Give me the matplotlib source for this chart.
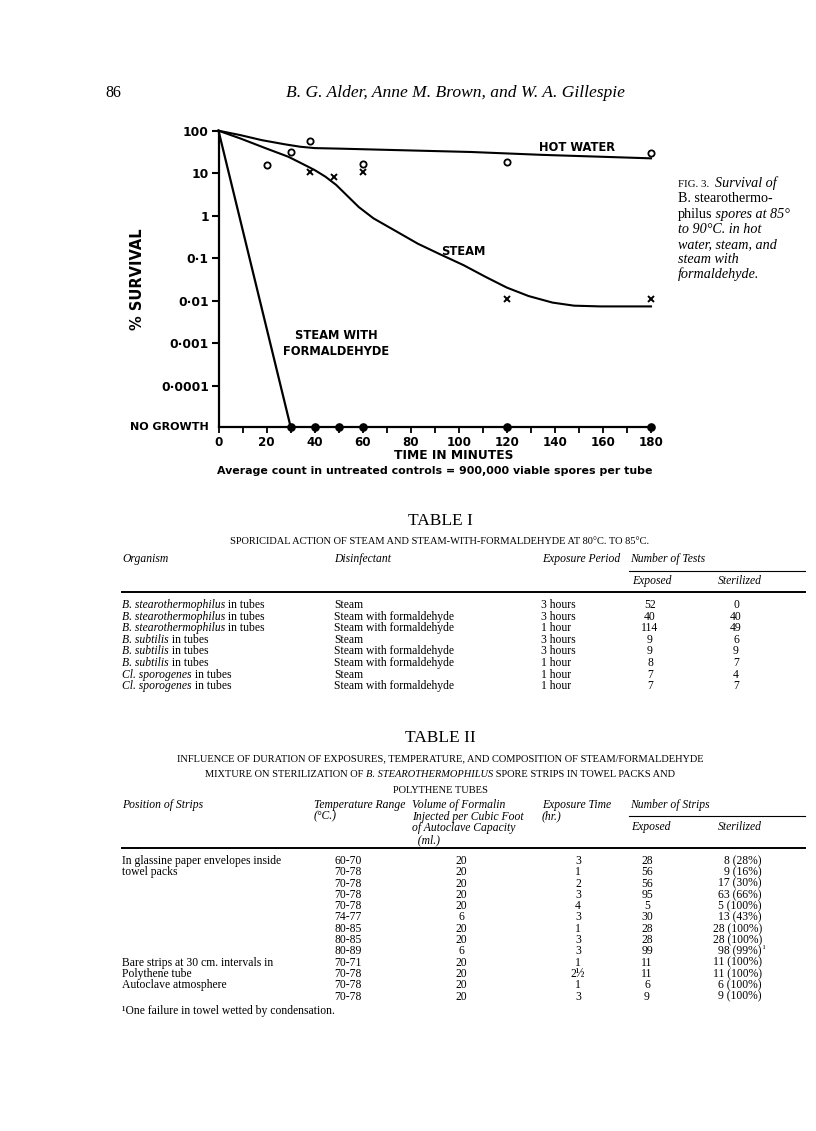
import matplotlib
matplotlib.use("Agg")
import matplotlib.pyplot as plt
from matplotlib.lines import Line2D

# ---------------- Figure 3 data ----------------
NO_GROWTH = 1.1e-5
hot_water_t = [20, 30, 38, 60, 120, 180]
hot_water_pct = [15.6, 32, 58, 16.5, 18, 30]
steam_t = [38, 48, 60, 120, 180]
steam_pct = [10.9, 8.3, 10.9, 0.0113, 0.0113]
formal_t = [30, 40, 50, 60, 120, 180]
formal_pct = [NO_GROWTH] * 6

hot_curve_t = [0, 9, 18, 27.5, 34, 40, 51, 74, 105, 135, 180]
hot_curve_pct = [100, 79, 60, 48, 42, 39, 37.8, 35, 31.6, 27, 22.4]
steam_curve_t = [0, 9, 20, 29, 34, 40, 44.5, 49, 54, 58.4, 64.5, 74, 83, 92, 102, 111, 120,
                 129, 139, 148, 159, 180]
steam_curve_pct = [100, 66, 38, 24.5, 17.7, 11.9, 8.3, 5.3, 2.8, 1.6, 0.87, 0.43, 0.22, 0.126,
                   0.069, 0.037, 0.0205, 0.013, 0.0091, 0.0077, 0.0074, 0.0074]
formal_curve_t = [0, 30]
formal_curve_pct = [100, NO_GROWTH]

y_tick_values = [100, 10, 1, 0.1, 0.01, 0.001, 0.0001]
y_tick_labels = ["100", "10", "1", "0·1", "0·01", "0·001", "0·0001"]
x_major = [0, 20, 40, 60, 80, 100, 120, 140, 160, 180]
x_minor = [10, 30, 50, 70, 90, 110, 130, 150, 170]

# ---------------- Table I data ----------------
t1_organism = ["B. stearothermophilus", "B. stearothermophilus", "B. stearothermophilus",
               "B. subtilis", "B. subtilis", "B. subtilis", "Cl. sporogenes", "Cl. sporogenes"]
t1_disinfectant = ["Steam", "Steam with formaldehyde", "Steam with formaldehyde", "Steam",
                   "Steam with formaldehyde", "Steam with formaldehyde", "Steam",
                   "Steam with formaldehyde"]
t1_period = ["3 hours", "3 hours", "1 hour", "3 hours", "3 hours", "1 hour", "1 hour", "1 hour"]
t1_exposed = [52, 40, 114, 9, 9, 8, 7, 7]
t1_sterilized = [0, 40, 49, 6, 9, 7, 4, 7]

# ---------------- Table II data ----------------
t2_position = ["In glassine paper envelopes inside", "towel packs", "", "", "", "", "", "", "",
               "Bare strips at 30 cm. intervals in", "Polythene tube", "Autoclave atmosphere", ""]
t2_temp = ["60-70", "70-78", "70-78", "70-78", "70-78", "74-77", "80-85", "80-85", "80-89",
           "70-71", "70-78", "70-78", "70-78"]
t2_volume = [20, 20, 20, 20, 20, 6, 20, 20, 6, 20, 20, 20, 20]
t2_time = ["3", "1", "2", "3", "4", "3", "1", "3", "3", "1", "2½", "1", "3"]
t2_exposed = [28, 56, 56, 95, 5, 30, 28, 28, 99, 11, 11, 6, 9]
t2_sterilized = [8, 9, 17, 63, 5, 13, 28, 28, 98, 11, 11, 6, 9]
t2_percent = [28, 16, 30, 66, 100, 43, 100, 100, 99, 100, 100, 100, 100]
t2_note = ["", "", "", "", "", "", "", "", "¹", "", "", "", ""]

SERIF = "Liberation Serif"
SANS = "DejaVu Sans"

fig = plt.figure(figsize=(8.16, 11.31), dpi=100)
fig.patch.set_facecolor("white")
page = fig.add_axes([0, 0, 1, 1])
page.set_xlim(0, 816)
page.set_ylim(1131, 0)
page.axis("off")
renderer = fig.canvas.get_renderer()


def seq(x, y, pieces, size, **kw):
    """Draw consecutive text pieces (text, style[, size]) on one baseline."""
    for piece in pieces:
        s, style = piece[0], piece[1]
        sz = piece[2] if len(piece) > 2 else size
        t = page.text(x, y, s, fontsize=sz, style=style, family=SERIF, va="baseline",
                      ha="left", **kw)
        x += t.get_window_extent(renderer).width
    return x


def stack(x, y_top, lines, size, step, **kw):
    """Several header lines, each placed on its own baseline."""
    for k, s in enumerate(lines):
        page.text(x, y_top + k * step, s, fontsize=size, family=SERIF, va="baseline", **kw)


# ---------------- page header ----------------
page.text(105, 97, "86", fontsize=11.5, family=SERIF, va="baseline")
page.text(455, 97, "B. G. Alder, Anne M. Brown, and W. A. Gillespie", fontsize=12.6,
          style="italic", family=SERIF, ha="center", va="baseline")

# ---------------- chart ----------------
ax = fig.add_axes([218.5 / 816, 1 - 426.7 / 1131, (651 - 218.5) / 816, (426.7 - 130.7) / 1131])
ax.set_yscale("log")
ax.set_xlim(0, 180)
ax.set_ylim(NO_GROWTH, 100)
for s in ("top", "right"):
    ax.spines[s].set_visible(False)
for s in ("left", "bottom"):
    ax.spines[s].set_linewidth(1.6)
ax.patch.set_alpha(0)

ax.plot(hot_curve_t, hot_curve_pct, color="black", lw=1.5, clip_on=False)
ax.plot(steam_curve_t, steam_curve_pct, color="black", lw=1.5, clip_on=False)
ax.plot(formal_curve_t, formal_curve_pct, color="black", lw=1.6, clip_on=False)
ax.plot(hot_water_t, hot_water_pct, ls="none", marker="o", ms=4.5, mfc="white", mec="black",
        mew=1.3, clip_on=False)
ax.plot(steam_t, steam_pct, ls="none", marker="x", ms=4, mec="black", mew=1.4, clip_on=False)
ax.plot(formal_t, formal_pct, ls="none", marker="o", ms=5.2, color="black", clip_on=False,
        zorder=5)

ax.set_yticks(y_tick_values)
ax.set_yticklabels(y_tick_labels)
ax.yaxis.set_minor_locator(matplotlib.ticker.NullLocator())
ax.set_xticks(x_major)
ax.set_xticks(x_minor, minor=True)
ax.tick_params(axis="y", which="major", direction="out", length=5, width=1.5, pad=2)
ax.tick_params(axis="x", which="both", direction="out", length=4, width=1.3, pad=3)
for lab in ax.get_yticklabels():
    lab.set_fontfamily(SANS)
    lab.set_fontweight("bold")
    lab.set_fontsize(8.8)
for lab in ax.get_xticklabels():
    lab.set_fontfamily(SANS)
    lab.set_fontweight("bold")
    lab.set_fontsize(8.6)

ax.text(-4, NO_GROWTH, "NO GROWTH", ha="right", va="center", fontsize=8, fontweight="bold",
        family=SANS, clip_on=False)
ax.text(-0.188, 0.5, "% SURVIVAL", rotation=90, transform=ax.transAxes, ha="center",
        va="center", fontsize=10.5, fontweight="bold", family=SANS)
ax.text(98, -0.077, "TIME IN MINUTES", transform=ax.get_xaxis_transform(), ha="center",
        va="top", fontsize=8.8, fontweight="bold", family=SANS)
ax.text(149, 41, "HOT WATER", ha="center", va="center", fontsize=8.3, fontweight="bold",
        family=SANS)
ax.text(102, 0.148, "STEAM", ha="center", va="center", fontsize=8.3, fontweight="bold",
        family=SANS)
ax.text(49, 0.001, "STEAM WITH\nFORMALDEHYDE", ha="center", va="center", fontsize=8.3,
        fontweight="bold", family=SANS, linespacing=1.25)
page.text(435, 474, "Average count in untreated controls = 900,000 viable spores per tube",
          ha="center", va="baseline", fontsize=7.9, fontweight="bold", family=SANS)

# ---------------- figure caption ----------------
cap_x = 678
CF = 10.2
seq(cap_x, 187, [("FIG. 3.  ", "normal", 7.8), ("Survival of", "italic")], CF)
seq(cap_x, 202, [("B. stearothermo-", "normal")], CF)
seq(cap_x, 218, [("philus", "normal"), (" spores at 85°", "italic")], CF)
seq(cap_x, 233, [("to 90°C. in hot", "italic")], CF)
seq(cap_x, 248, [("water, steam, and", "italic")], CF)
seq(cap_x, 263, [("steam with", "italic")], CF)
seq(cap_x, 278, [("formaldehyde.", "italic")], CF)

# ---------------- Table I ----------------
FS = 8.4
SC = 7.5
LEFT = 122
RIGHT = 805
page.text(440, 525, "TABLE I", ha="center", va="baseline", fontsize=12.5, family=SERIF)
page.text(440, 544, "SPORICIDAL ACTION OF STEAM AND STEAM-WITH-FORMALDEHYDE AT 80°C. TO 85°C.",
          ha="center", va="baseline", fontsize=SC, family=SERIF)
hy = 562
page.text(LEFT, hy, "Organism", style="italic", fontsize=FS, family=SERIF, va="baseline")
page.text(334, hy, "Disinfectant", style="italic", fontsize=FS, family=SERIF, va="baseline")
page.text(542, hy, "Exposure Period", style="italic", fontsize=FS, family=SERIF, va="baseline")
page.text(630, hy, "Number of Tests", style="italic", fontsize=FS, family=SERIF, va="baseline")
page.add_line(Line2D([629, RIGHT], [571, 571], color="black", lw=0.8))
page.text(652, 584, "Exposed", style="italic", fontsize=FS, family=SERIF, va="baseline",
          ha="center")
page.text(740, 584, "Sterilized", style="italic", fontsize=FS, family=SERIF, va="baseline",
          ha="center")
page.add_line(Line2D([LEFT, RIGHT], [592, 592], color="black", lw=1.4))
row_y = 608
for i in range(len(t1_organism)):
    y = row_y + i * 11.6
    seq(LEFT, y, [(t1_organism[i], "italic"), (" in tubes", "normal")], FS)
    page.text(334, y, t1_disinfectant[i], fontsize=FS, family=SERIF, va="baseline")
    page.text(541, y, t1_period[i], fontsize=FS, family=SERIF, va="baseline")
    page.text(650, y, str(t1_exposed[i]), fontsize=FS, family=SERIF, va="baseline", ha="center")
    page.text(736, y, str(t1_sterilized[i]), fontsize=FS, family=SERIF, va="baseline",
              ha="center")

# ---------------- Table II ----------------
page.text(440, 742, "TABLE II", ha="center", va="baseline", fontsize=12.5, family=SERIF)
page.text(440, 761, "INFLUENCE OF DURATION OF EXPOSURES, TEMPERATURE, AND COMPOSITION OF "
          "STEAM/FORMALDEHYDE", ha="center", va="baseline", fontsize=SC, family=SERIF)
sub2 = [("MIXTURE ON STERILIZATION OF ", "normal"), ("B. STEAROTHERMOPHILUS", "italic"),
        (" SPORE STRIPS IN TOWEL PACKS AND", "normal")]
w = 0
for s, st in sub2:
    t = page.text(0, 0, s, fontsize=SC, style=st, family=SERIF)
    w += t.get_window_extent(renderer).width
    t.remove()
seq(440 - w / 2, 777, sub2, SC)
page.text(440, 793, "POLYTHENE TUBES", ha="center", va="baseline", fontsize=SC, family=SERIF)

hy = 808
lh = 11.6
stack(LEFT, hy, ["Position of Strips"], FS, lh, style="italic")
stack(314, hy, ["Temperature Range", "(°C.)"], FS, lh, style="italic")
stack(412, hy, ["Volume of Formalin", "Injected per Cubic Foot", "of Autoclave Capacity",
                "  (ml.)"], FS, lh, style="italic")
stack(542, hy, ["Exposure Time", "(hr.)"], FS, lh, style="italic")
stack(630, hy, ["Number of Strips"], FS, lh, style="italic")
page.add_line(Line2D([629, RIGHT], [816, 816], color="black", lw=0.8))
page.text(631, 830, "Exposed", style="italic", fontsize=FS, family=SERIF, va="baseline")
page.text(718, 830, "Sterilized", style="italic", fontsize=FS, family=SERIF, va="baseline")
page.add_line(Line2D([LEFT, RIGHT], [848, 848], color="black", lw=1.4))
row_y = 864
for i in range(len(t2_temp)):
    y = row_y + i * 11.3
    if t2_position[i]:
        page.text(LEFT, y, t2_position[i], fontsize=FS, family=SERIF, va="baseline")
    page.text(348, y, t2_temp[i], fontsize=FS, family=SERIF, va="baseline", ha="center")
    page.text(461, y, str(t2_volume[i]), fontsize=FS, family=SERIF, va="baseline", ha="center")
    page.text(578, y, t2_time[i], fontsize=FS, family=SERIF, va="baseline", ha="center")
    page.text(647, y, str(t2_exposed[i]), fontsize=FS, family=SERIF, va="baseline", ha="center")
    page.text(762, y, f"{t2_sterilized[i]} ({t2_percent[i]}%)", fontsize=FS, family=SERIF,
              va="baseline", ha="right")
    if t2_note[i]:
        page.text(763, y - 3.5, t2_note[i], fontsize=FS - 2.5, family=SERIF, va="baseline")
page.text(LEFT, 1014, "¹One failure in towel wetted by condensation.", fontsize=FS,
          family=SERIF, va="baseline")

fig.savefig("out.png", dpi=100, facecolor="white")
